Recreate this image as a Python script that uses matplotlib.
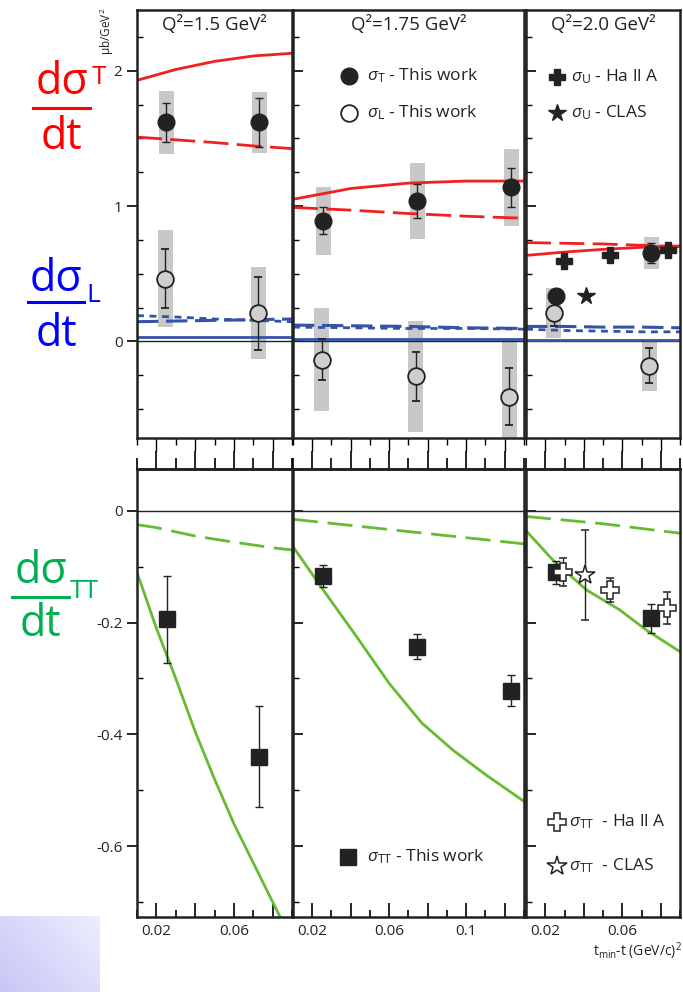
import numpy as np
import matplotlib
matplotlib.use("Agg")
import matplotlib.pyplot as plt
from matplotlib.ticker import MultipleLocator, FuncFormatter
from matplotlib.lines import Line2D

plt.rcParams['font.family'] = ['Open Sans', 'DejaVu Sans']
plt.rcParams['mathtext.fontset'] = 'custom'
plt.rcParams['mathtext.rm'] = 'Open Sans'
plt.rcParams['mathtext.it'] = 'Open Sans:italic'
plt.rcParams['mathtext.bf'] = 'Open Sans:bold'
plt.rcParams['axes.unicode_minus'] = False

RED = '#ee2020'
BLUE = '#3453a8'
GREEN = '#66bb33'
GRAY = '#c8c8c8'
INK = '#222222'

# ---- panel ranges / titles
q2_titles = ["Q²=1.5 GeV²", "Q²=1.75 GeV²", "Q²=2.0 GeV²"]
t_ranges = [(0.01, 0.09), (0.01, 0.13), (0.01, 0.09)]

# ---- model curves, top row (sigma_T red, sigma_L blue)
t_curve_A = [0.01, 0.03, 0.05, 0.07, 0.09]
T_solid_A = [1.93, 2.01, 2.07, 2.11, 2.13]
T_dash_A = [1.51, 1.49, 1.47, 1.445, 1.425]
L_solid_A = [0.03, 0.03, 0.03, 0.03, 0.03]
L_dash_A = [0.145, 0.15, 0.155, 0.16, 0.165]
L_dot_A = [0.19, 0.18, 0.165, 0.155, 0.145]

t_curve_B = [0.01, 0.04, 0.07, 0.10, 0.13]
T_solid_B = [1.05, 1.13, 1.17, 1.185, 1.185]
T_dash_B = [0.99, 0.97, 0.945, 0.925, 0.91]
L_solid_B = [0.02, 0.02, 0.02, 0.02, 0.02]
L_dash_B = [0.12, 0.115, 0.11, 0.10, 0.095]
L_dot_B = [0.105, 0.10, 0.095, 0.095, 0.09]

t_curve_C = [0.01, 0.03, 0.05, 0.07, 0.09]
T_solid_C = [0.635, 0.66, 0.68, 0.695, 0.705]
T_dash_C = [0.73, 0.725, 0.72, 0.71, 0.70]
L_solid_C = [0.01, 0.01, 0.01, 0.01, 0.01]
L_dash_C = [0.11, 0.11, 0.105, 0.105, 0.10]
L_dot_C = [0.09, 0.08, 0.075, 0.07, 0.07]

# ---- model curves, bottom row (sigma_TT green)
tt_solid_t_A = [0.01, 0.02, 0.03, 0.04, 0.05, 0.06, 0.07, 0.08, 0.09]
tt_solid_A = [-0.11, -0.21, -0.30, -0.395, -0.48, -0.56, -0.63, -0.70, -0.77]
tt_dash_t_A = [0.01, 0.02, 0.04, 0.06, 0.08, 0.09]
tt_dash_A = [-0.0245, -0.03, -0.045, -0.056, -0.066, -0.07]

tt_solid_t_B = [0.01, 0.0257, 0.043, 0.060, 0.077, 0.093, 0.11, 0.13]
tt_solid_B = [-0.064, -0.1415, -0.225, -0.309, -0.38, -0.428, -0.472, -0.52]
tt_dash_t_B = [0.01, 0.04, 0.07, 0.10, 0.13]
tt_dash_B = [-0.015, -0.026, -0.037, -0.048, -0.059]

tt_solid_t_C = [0.0104, 0.024, 0.0414, 0.0586, 0.0724, 0.09]
tt_solid_C = [-0.037, -0.088, -0.1415, -0.177, -0.213, -0.252]
tt_dash_t_C = [0.01, 0.05, 0.09]
tt_dash_C = [-0.01, -0.023, -0.04]

# ---- data, top row
sT_t = [[0.025, 0.073], [0.0257, 0.0746, 0.1233], [0.0255, 0.0751]]
sT_v = [[1.62, 1.62], [0.892, 1.035, 1.138], [0.333, 0.653]]
sT_e = [[0.145, 0.18], [0.10, 0.125, 0.145], [0.03, 0.075]]
sT_s = [[0.234, 0.225], [0.252, 0.28, 0.285], [0.0, 0.12]]

sL_t = [[0.0245, 0.0725], [0.025, 0.0738, 0.1224], [0.0245, 0.074]]
sL_v = [[0.463, 0.207], [-0.135, -0.259, -0.411], [0.21, -0.18]]
sL_e = [[0.22, 0.27], [0.15, 0.18, 0.21], [0.10, 0.13]]
sL_s = [[0.36, 0.34], [0.38, 0.41, 0.42], [0.185, 0.19]]

hallA_U_t = [0.0298, 0.0536, 0.0839]
hallA_U_v = [0.596, 0.64, 0.678]
clas_U_t = [0.041]
clas_U_v = [0.333]

# ---- data, bottom row
sTT_t = [[0.0253, 0.0732], [0.0257, 0.0743, 0.1231], [0.0255, 0.075]]
sTT_v = [[-0.194, -0.44], [-0.116, -0.243, -0.322], [-0.11, -0.192]]
sTT_e = [[0.078, 0.09], [0.02, 0.023, 0.028], [0.02, 0.026]]
sTT_s = [[0.012, 0.012], [0.012, 0.012, 0.012], [0.012, 0.012]]

hallA_TT_t = [0.0293, 0.0534, 0.0832]
hallA_TT_v = [-0.11, -0.1415, -0.174]
hallA_TT_e = [0.025, 0.022, 0.028]
clas_TT_t = [0.0409]
clas_TT_v = [-0.115]
clas_TT_e = [0.08]

top_curves = [
    (t_curve_A, T_solid_A, T_dash_A, L_solid_A, L_dash_A, L_dot_A),
    (t_curve_B, T_solid_B, T_dash_B, L_solid_B, L_dash_B, L_dot_B),
    (t_curve_C, T_solid_C, T_dash_C, L_solid_C, L_dash_C, L_dot_C),
]
bot_curves = [
    (tt_solid_t_A, tt_solid_A, tt_dash_t_A, tt_dash_A),
    (tt_solid_t_B, tt_solid_B, tt_dash_t_B, tt_dash_B),
    (tt_solid_t_C, tt_solid_C, tt_dash_t_C, tt_dash_C),
]

W, H = 683, 992
fig = plt.figure(figsize=(W / 100, H / 100), dpi=100)

cols = [(137, 292), (293, 524), (526, 680)]
top_y = (10, 438)
bot_y = (469, 917)
BOXW = 0.0078
LEG_FS = 12.5


def fbox(x0, x1, y0, y1):
    return [x0 / W, 1 - y1 / H, (x1 - x0) / W, (y1 - y0) / H]


def xfmt(v, pos):
    for lab in (0.02, 0.06, 0.1):
        if abs(v - lab) < 1e-6:
            return f"{lab:g}"
    return ""


def yfmt(v, pos):
    if abs(v) < 1e-9:
        return "0"
    return f"{v:g}"


def sys_boxes(ax, t, v, s):
    t = np.asarray(t); v = np.asarray(v); s = np.asarray(s)
    ax.bar(t, 2 * s, bottom=v - s, width=BOXW, color=GRAY, zorder=1.5, linewidth=0)


def frame(ax):
    for sp in ax.spines.values():
        sp.set_linewidth(1.8)
        sp.set_color(INK)


ms_circ = 12
for i, (c0, c1) in enumerate(cols):
    left = i == 0
    lo, hi = t_ranges[i]
    # ---------------- top row
    ax = fig.add_axes(fbox(c0, c1, *top_y))
    frame(ax)
    ax.set_xlim(lo, hi)
    ax.set_ylim(-0.715, 2.45)
    tc, Ts, Td, Ls, Ld, Lo = top_curves[i]
    ax.axhline(0, color=INK, lw=1.0, zorder=1.8)
    ax.plot(tc, Ts, color=RED, lw=2, zorder=2)
    ax.plot(tc, Td, color=RED, lw=2, dashes=(9, 3), zorder=2)
    ax.plot(tc, Ls, color=BLUE, lw=2, zorder=2)
    ax.plot(tc, Ld, color=BLUE, lw=2.2, dashes=(7, 2.5), zorder=2)
    ax.plot(tc, Lo, color=BLUE, lw=2, dashes=(2.5, 2), zorder=2)
    sys_boxes(ax, sL_t[i], sL_v[i], sL_s[i])
    sys_boxes(ax, sT_t[i], sT_v[i], sT_s[i])
    ax.errorbar(sT_t[i], sT_v[i], yerr=sT_e[i], fmt='o', ms=ms_circ, mfc=INK, mec=INK,
                ecolor=INK, elinewidth=1, capsize=3, capthick=1, zorder=4)
    ax.errorbar(sL_t[i], sL_v[i], yerr=sL_e[i], fmt='o', ms=ms_circ, mfc='#cfcfcf', mec=INK,
                mew=1.3, ecolor=INK, elinewidth=1, capsize=3, capthick=1, zorder=4)
    if i == 2:
        ax.plot(hallA_U_t, hallA_U_v, 'P', ms=12, color=INK, zorder=4)
        ax.plot(clas_U_t, clas_U_v, '*', ms=13, color=INK, zorder=4)
    ax.text(0.5, 0.965, q2_titles[i], transform=ax.transAxes, ha='center', va='center',
            fontsize=13.5, color=INK)
    ax.yaxis.set_major_locator(MultipleLocator(1))
    ax.yaxis.set_minor_locator(MultipleLocator(0.25))
    ax.yaxis.set_major_formatter(FuncFormatter(yfmt))
    ax.tick_params(axis='y', which='major', direction='out' if left else 'in', length=7,
                   width=1.2, labelsize=11, labelcolor=INK, labelleft=left, right=False)
    ax.tick_params(axis='y', which='minor', direction='in', length=4, width=1.0, right=False)
    ax.xaxis.set_major_locator(MultipleLocator(0.02))
    ax.xaxis.set_minor_locator(MultipleLocator(0.01))
    ax.tick_params(axis='x', which='both', direction='out', labelbottom=False, width=1.0)
    ax.tick_params(axis='x', which='major', length=9)
    ax.tick_params(axis='x', which='minor', length=5)

    if i == 1:
        ax.plot([0.244], [0.846], 'o', ms=ms_circ, color=INK, transform=ax.transAxes)
        ax.plot([0.244], [0.760], 'o', ms=ms_circ, mfc='white', mec=INK, mew=1.3,
                transform=ax.transAxes)
        ax.text(0.32, 0.846, r"$\sigma_{\mathrm{T}}$ - This work", transform=ax.transAxes,
                va='center', fontsize=LEG_FS, color=INK)
        ax.text(0.32, 0.760, r"$\sigma_{\mathrm{L}}$ - This work", transform=ax.transAxes,
                va='center', fontsize=LEG_FS, color=INK)
    if i == 2:
        ax.plot([0.203], [0.844], 'P', ms=12, color=INK, transform=ax.transAxes)
        ax.plot([0.203], [0.759], '*', ms=13, color=INK, transform=ax.transAxes)
        ax.text(0.29, 0.844, r"$\sigma_{\mathrm{U}}$ - Ha ll A", transform=ax.transAxes,
                va='center', fontsize=LEG_FS, color=INK)
        ax.text(0.29, 0.759, r"$\sigma_{\mathrm{U}}$ - CLAS", transform=ax.transAxes,
                va='center', fontsize=LEG_FS, color=INK)

    # ---------------- bottom row
    bx = fig.add_axes(fbox(c0, c1, *bot_y))
    frame(bx)
    bx.set_xlim(lo, hi)
    bx.set_ylim(-0.727, 0.075)
    st, sv, dt_, dv = bot_curves[i]
    bx.axhline(0, color=INK, lw=1.0, zorder=1.8)
    bx.plot(st, sv, color=GREEN, lw=2, zorder=2)
    bx.plot(dt_, dv, color=GREEN, lw=2, dashes=(9, 3.5), zorder=2)
    sys_boxes(bx, sTT_t[i], sTT_v[i], sTT_s[i])
    bx.errorbar(sTT_t[i], sTT_v[i], yerr=sTT_e[i], fmt='s', ms=11.5, mfc=INK, mec=INK,
                ecolor=INK, elinewidth=1, capsize=3, capthick=1, zorder=4)
    if i == 2:
        bx.errorbar(hallA_TT_t, hallA_TT_v, yerr=hallA_TT_e, fmt='P', ms=13, mfc='white',
                    mec=INK, mew=1.1, ecolor=INK, elinewidth=1, capsize=3, capthick=1, zorder=4)
        bx.errorbar(clas_TT_t, clas_TT_v, yerr=clas_TT_e, fmt='*', ms=15, mfc='white',
                    mec=INK, mew=1.1, ecolor=INK, elinewidth=1, capsize=3, capthick=1, zorder=4)
    bx.yaxis.set_major_locator(MultipleLocator(0.2))
    bx.yaxis.set_minor_locator(MultipleLocator(0.1))
    bx.yaxis.set_major_formatter(FuncFormatter(yfmt))
    bx.tick_params(axis='y', which='major', direction='out' if left else 'in', length=7,
                   width=1.2, labelsize=11, labelcolor=INK, labelleft=left, right=False)
    bx.tick_params(axis='y', which='minor', direction='in', length=4, width=1.0, right=False)
    bx.xaxis.set_major_locator(MultipleLocator(0.02))
    bx.xaxis.set_minor_locator(MultipleLocator(0.01))
    bx.xaxis.set_major_formatter(FuncFormatter(xfmt))
    bx.tick_params(axis='x', which='both', direction='in', width=1.2, labelsize=11,
                   labelcolor=INK, pad=5)
    bx.tick_params(axis='x', which='major', length=10)
    bx.tick_params(axis='x', which='minor', length=5)
    sec = bx.secondary_xaxis('top')
    sec.xaxis.set_major_locator(MultipleLocator(0.02))
    sec.xaxis.set_minor_locator(MultipleLocator(0.01))
    sec.tick_params(axis='x', which='both', direction='out', labeltop=False, width=1.2)
    sec.tick_params(axis='x', which='major', length=13)
    sec.tick_params(axis='x', which='minor', length=8)
    sec.spines['top'].set_linewidth(1.8)

    if i == 1:
        bx.plot([0.238], [0.134], 's', ms=11.5, color=INK, transform=bx.transAxes)
        bx.text(0.32, 0.134, r"$\sigma_{\mathrm{TT}}$ - This work", transform=bx.transAxes,
                va='center', fontsize=LEG_FS, color=INK)
    if i == 2:
        bx.plot([0.201], [0.212], 'P', ms=13, mfc='white', mec=INK, mew=1.1,
                transform=bx.transAxes)
        bx.plot([0.201], [0.114], '*', ms=15, mfc='white', mec=INK, mew=1.1,
                transform=bx.transAxes)
        bx.text(0.28, 0.212, r"$\sigma_{\mathrm{TT}}$  - Ha ll A", transform=bx.transAxes,
                va='center', fontsize=LEG_FS, color=INK)
        bx.text(0.28, 0.114, r"$\sigma_{\mathrm{TT}}$  - CLAS", transform=bx.transAxes,
                va='center', fontsize=LEG_FS, color=INK)

# ---- axis annotations
fig.text(107 / W, 1 - 8 / H, "μb/GeV$^2$", rotation=90, ha='center', va='top',
         fontsize=8.5, color=INK)
fig.text(0.998, 1 - 956 / H, r"t$_{\rm min}$-t (GeV/c)$^2$", ha='right', va='baseline',
         fontsize=10, color=INK)

# ---- left-hand fraction labels
labels = [
    # color, x0, x1 (bar), bar y, num baseline, den baseline, sub text, sub x, sub y
    ('#ff0000', 33, 90, 108, 94, 149, 'T', 92, 78),
    ('#0000ff', 28, 84, 302, 291, 346, 'L', 86, 296),
    ('#00b050', 12, 69, 597, 583, 636, 'TT', 70, 592),
]
for col, x0, x1, yb, yn, yd, sub, sx, sy in labels:
    xc = (x0 + x1) / 2 / W
    fig.text(xc, 1 - yn / H, "dσ", color=col, ha='center', va='baseline', fontsize=31)
    fig.text(xc, 1 - yd / H, "dt", color=col, ha='center', va='baseline', fontsize=31)
    fig.add_artist(Line2D([x0 / W, x1 / W], [1 - yb / H, 1 - yb / H], color=col, lw=2.2))
    fig.text(sx / W, 1 - sy / H, sub, color=col, ha='left', va='center', fontsize=19)

# ---- lavender corner patch
gx = fig.add_axes([0, 0, 100 / W, 76 / H])
grad = np.linspace(0, 1, 64)
img = np.zeros((32, 64, 3))
base = np.array([0.78, 0.78, 0.96])
light = np.array([0.93, 0.93, 1.0])
for r in range(32):
    f = 0.6 * grad + 0.4 * (1 - r / 31)
    img[r] = base + (light - base) * f[:, None]
gx.imshow(img[::-1], aspect='auto', origin='lower', interpolation='bilinear')
gx.axis('off')

fig.savefig("out.png", dpi=100)
